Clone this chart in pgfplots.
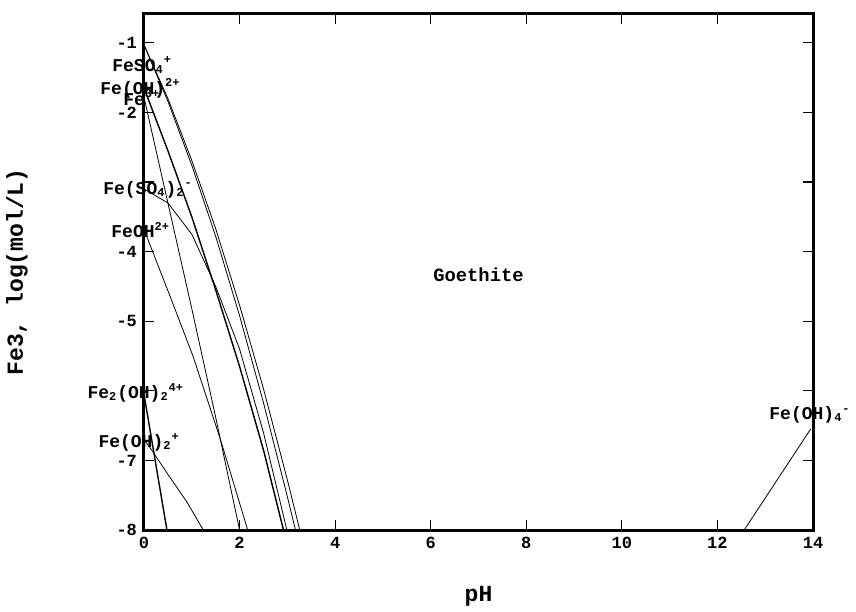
\documentclass[border=0pt]{standalone}
\usepackage{fontspec}
\setmainfont{Liberation Mono}
\usepackage{pgfplots}
\pgfplotsset{compat=1.18}
\begin{document}
\begin{tikzpicture}
\begin{axis}[
 scale only axis, width=334.5pt, height=258pt,
 xmin=0, xmax=14, ymin=-8, ymax=-0.586,
 axis line style={line width=1.5pt},
 tick style={black, line width=0.6pt},
 major tick length=5pt,
 tick align=inside,
 xtick={0,2,...,14}, ytick={-8,-7,...,-1},
 xticklabels={0,2,4,6,8,10,12,14},
 yticklabels={-8,-7,{},-5,-4,{},-2,-1},
 ticklabel style={font=\bfseries\fontsize{8.5}{9}\selectfont},
 xlabel={pH}, ylabel={Fe3, log(mol/L)},
 label style={font=\bfseries\fontsize{11.5}{12}\selectfont},
 xlabel style={at={(axis description cs:0.5,0)}, anchor=center, yshift=-33pt},
 ylabel style={at={(axis description cs:0,0.5)}, anchor=center, yshift=63.5pt},
 clip=false,
 cycle list={{black, solid, line width=0.7pt, mark=none}},
]
\coordinate (O) at (rel axis cs:0,0);
% FeSO4+ pair from the vertex
\addplot coordinates {(0,-1.03) (0.5,-1.80) (1.0,-2.69) (1.5,-3.67) (2.0,-4.77) (2.5,-5.97) (3.0,-7.28) (3.26,-8)};
\addplot coordinates {(0,-1.03) (0.5,-1.84) (1.0,-2.76) (1.5,-3.78) (2.0,-4.92) (2.5,-6.17) (3.0,-7.52) (3.17,-8)};
% Fe(OH)2+ (upper)
\addplot coordinates {(0,-1.65) (0.5,-2.55) (1.0,-3.5) (1.5,-4.55) (2.0,-5.65) (2.5,-6.85) (2.92,-8)};
% Fe(SO4)2-
\addplot coordinates {(0,-3.1) (0.5,-3.3) (1.0,-3.75) (1.5,-4.5) (2.0,-5.4) (2.5,-6.6) (2.99,-8)};
% Fe3+
\addplot coordinates {(0,-1.78) (0.5,-3.3) (1.0,-4.82) (1.5,-6.38) (2.0,-8)};
% FeOH2+
\addplot coordinates {(0,-3.68) (0.55,-4.65) (1.03,-5.51) (1.6,-6.7) (2.17,-8)};
% Fe2(OH)2 4+
\addplot coordinates {(0,-6.05) (0.48,-8)};
% Fe(OH)2+
\addplot coordinates {(0,-6.7) (0.16,-6.85) (0.5,-7.2) (0.9,-7.6) (1.24,-8)};
% Fe(OH)4-
\addplot coordinates {(12.56,-8) (13.95,-6.55)};

\begin{scope}[every node/.style={font=\bfseries\fontsize{9}{10}\selectfont, inner sep=0pt}]
\node[anchor=west] at (axis cs:-0.67,-1.32) {FeSO\textsubscript{4}\textsuperscript{+}};
\node[anchor=west] at (axis cs:-0.92,-1.65) {Fe(OH)\textsuperscript{2+}};
\node[anchor=west] at (axis cs:-0.44,-1.79) {Fe\textsuperscript{3+}};
\node[anchor=west] at (axis cs:-0.86,-3.11) {Fe(SO\textsubscript{4})\textsubscript{2}\textsuperscript{-}};
\node[anchor=west] at (axis cs:-0.69,-3.69) {FeOH\textsuperscript{2+}};
\node[anchor=west] at (axis cs:-1.19,-6.03) {Fe\textsubscript{2}(OH)\textsubscript{2}\textsuperscript{4+}};
\node[anchor=west] at (axis cs:-0.96,-6.74) {Fe(OH)\textsubscript{2}\textsuperscript{+}};
\node[anchor=west] at (axis cs:13.08,-6.35) {Fe(OH)\textsubscript{4}\textsuperscript{-}};
\node[font=\bfseries\fontsize{9.4}{10}\selectfont] at (axis cs:7,-4.34) {Goethite};
\end{scope}
\end{axis}
\pgfresetboundingbox
\path (O) ++(-72pt,-40.5pt) rectangle ++(428pt,305.5pt);
\end{tikzpicture}
\end{document}
